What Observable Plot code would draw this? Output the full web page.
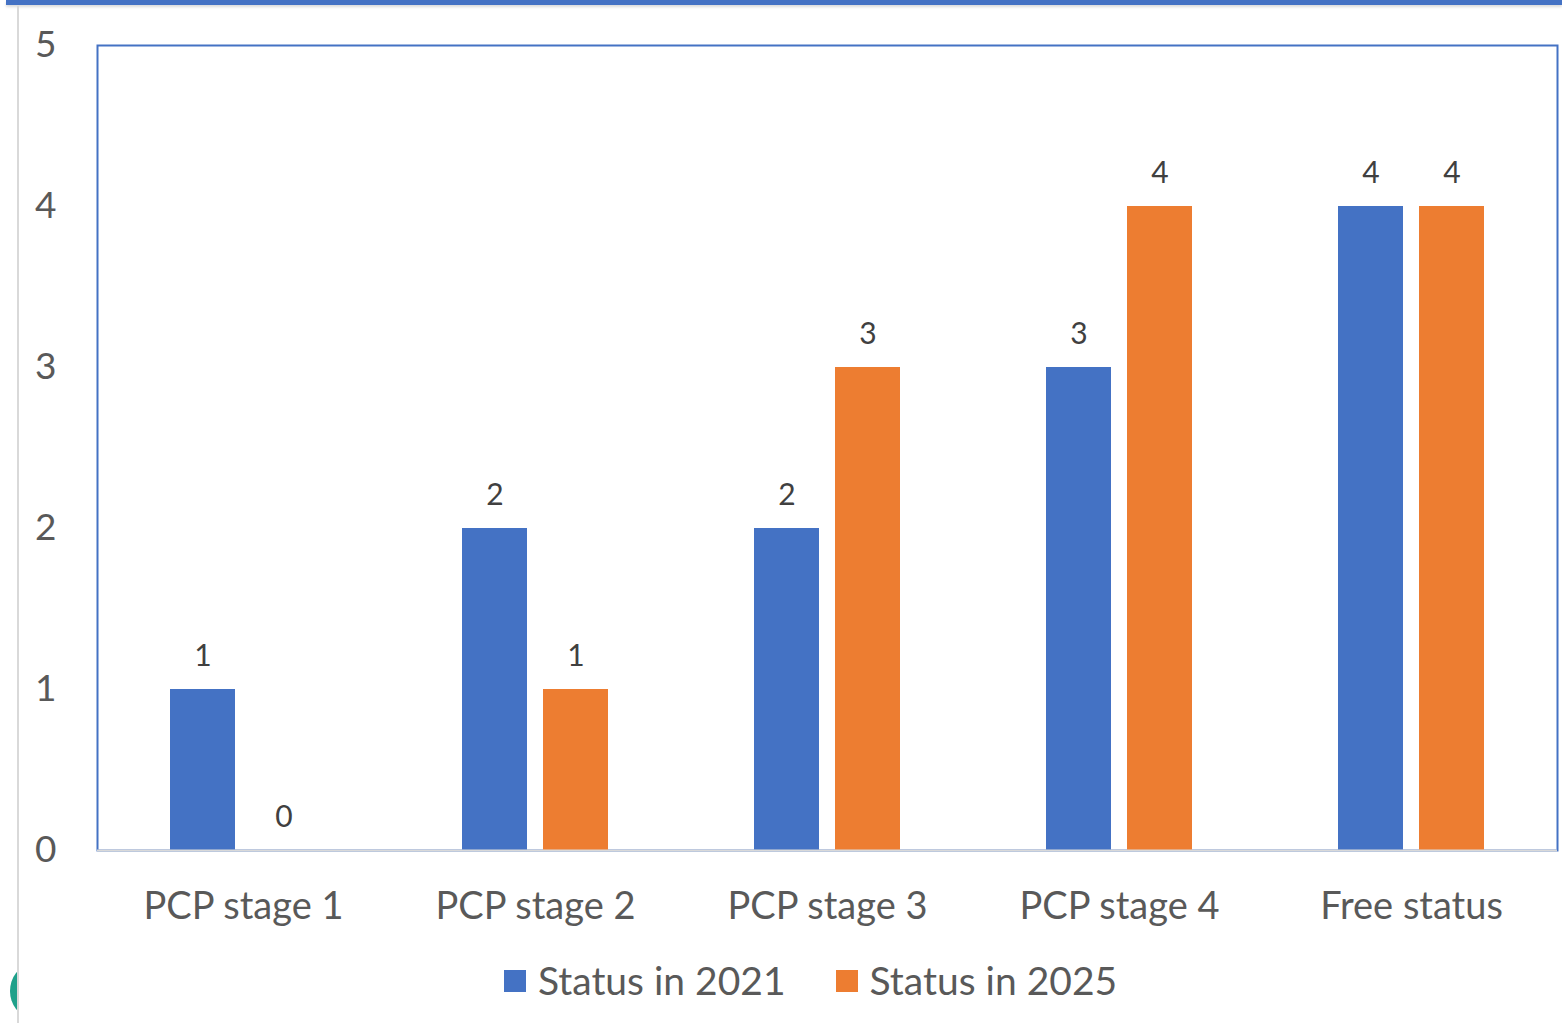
<!DOCTYPE html>
<html><head><meta charset="utf-8">
<script src="https://cdn.jsdelivr.net/npm/d3@7"></script>
<script src="https://cdn.jsdelivr.net/npm/@observablehq/plot@0.6"></script>
<style>
html,body{margin:0;padding:0;background:#fff;}
body{width:1562px;height:1023px;overflow:hidden;position:relative;font-family:Lato,sans-serif;}
#topbar{position:absolute;left:6px;top:0;width:1556px;height:5px;background:#4472C4;box-shadow:0 2px 3px rgba(0,0,0,0.15);z-index:2}
#leftline{position:absolute;left:17px;top:6px;width:2px;height:1017px;background:#d9d9d9;z-index:2}
#dot{position:absolute;left:10px;top:966px;width:40px;height:50px;border-radius:50%;background:#1fa08a;clip-path:inset(0 32px 0 0);z-index:1}
#chart{position:absolute;left:0;top:0}
#legend{position:absolute;top:956px;left:504px;display:flex;align-items:center;font-size:39px;line-height:48px;color:#595959;white-space:nowrap}
.item{display:flex;align-items:center;margin-right:50px}
.sw{width:22px;height:22px;margin-right:12px;margin-top:2px}
</style></head>
<body>
<div id="topbar"></div><div id="leftline"></div><div id="dot"></div>
<div id="chart"></div>
<div id="legend"></div>
<script>
const categories = ["PCP stage 1","PCP stage 2","PCP stage 3","PCP stage 4","Free status"];
const series = ["Status in 2021","Status in 2025"];
const values2021 = [1,2,2,3,4];
const values2025 = [0,1,3,4,4];
const yTicks = [0,1,2,3,4,5];
const colors = ["#4472C4","#ED7D31"];

const data = categories.flatMap((c,i)=>[
  {cat:c, series:series[0], value:values2021[i]},
  {cat:c, series:series[1], value:values2025[i]}
]);

const chart = Plot.plot({
  width:1562, height:940,
  marginLeft:97, marginRight:5, marginTop:45, marginBottom:90,
  style:{fontFamily:"Lato, sans-serif", fontSize:"32px", color:"#595959", background:"transparent"},
  fx:{domain:categories, padding:0, label:null, axis:null},
  x:{domain:series, axis:null, paddingInner:0.195, paddingOuter:0.878},
  y:{domain:[0,5], axis:null},
  color:{domain:series, range:colors},
  marks:[
    Plot.frame({stroke:"#4472C4", strokeWidth:2, facet:"super"}),
    Plot.barY(data,{fx:"cat", x:"series", y:"value", fill:"series"}),
    Plot.ruleY([0],{stroke:"#d9d9d9", strokeWidth:2}),
    Plot.text(data,{fx:"cat", x:"series", y:"value", text:d=>String(d.value), dy:-33, fontSize:30, fill:"#404040"}),
    Plot.axisY(yTicks,{tickSize:0, tickPadding:41, fontSize:37, fill:"#595959", label:null, tickFormat:d=>String(d)}),
    Plot.axisFx({anchor:"bottom", tickSize:0, tickPadding:42, fontSize:38, fill:"#595959", label:null})
  ]
});
document.getElementById("chart").appendChild(chart);

const leg = document.getElementById("legend");
series.forEach((s,i)=>{
  const it = document.createElement("div"); it.className="item";
  const sw = document.createElement("div"); sw.className="sw"; sw.style.background=colors[i];
  const t = document.createElement("span"); t.textContent=s;
  it.appendChild(sw); it.appendChild(t); leg.appendChild(it);
});
</script>
</body></html>
